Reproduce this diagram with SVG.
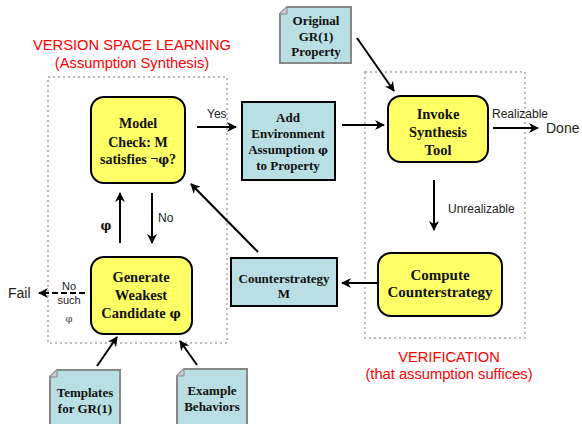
<svg xmlns="http://www.w3.org/2000/svg" width="582" height="424" viewBox="0 0 582 424">
<defs>
<marker id="ah" markerWidth="10" markerHeight="10" refX="9" refY="5" orient="auto" markerUnits="userSpaceOnUse"><path d="M0,0 L10,5 L0,10 L3,5 z" fill="#000"/></marker>
</defs>
<style>
.proc{fill:#ffff66;stroke:#000;stroke-width:2}
.box{fill:#b9dfe2;stroke:#000;stroke-width:2}
.note{fill:#b9dfe2;stroke:#888;stroke-width:2}
.area{fill:none;stroke:#bbb;stroke-width:2;stroke-dasharray:2 3}
.t{font-family:"Liberation Serif",serif;font-weight:bold;text-anchor:middle;fill:#111}
.p{font-family:"DejaVu Serif",serif;font-weight:bold}
.s{font-family:"Liberation Sans",Arial,sans-serif;fill:#222}
.red{font-family:"Liberation Sans",Arial,sans-serif;fill:#f00;font-size:14.7px;text-anchor:middle}
.c{stroke:#000;stroke-width:2;fill:none;marker-end:url(#ah)}
</style>
<rect width="582" height="424" fill="#fff"/>
<g id="areas">
<rect class="area" x="48" y="77" width="179" height="266"/>
<rect class="area" x="365" y="72" width="160" height="266"/>
<text class="red" x="132" y="50">VERSION SPACE LEARNING</text>
<text class="red" x="132" y="68">(Assumption Synthesis)</text>
<text class="red" x="449" y="362">VERIFICATION</text>
<text class="red" x="449" y="379">(that assumption suffices)</text>
</g>
<g id="connectors">
<line class="c" x1="197" y1="127" x2="236" y2="127"/>
<line class="c" x1="342" y1="125" x2="384" y2="125"/>
<line class="c" x1="357" y1="38" x2="394" y2="91"/>
<line class="c" x1="493" y1="128" x2="538" y2="128"/>
<line class="c" x1="434" y1="180" x2="434" y2="230"/>
<line class="c" x1="378" y1="283" x2="342" y2="283"/>
<line class="c" x1="258" y1="252" x2="191" y2="184"/>
<line class="c" x1="120" y1="243" x2="120" y2="193"/>
<line class="c" x1="152" y1="193" x2="152" y2="243"/>
<line class="c" x1="85" y1="293" x2="39" y2="293" stroke-dasharray="6 3"/>
<line class="c" x1="97" y1="366" x2="117" y2="337"/>
<line class="c" x1="197" y1="365" x2="180" y2="341"/>
<text class="s" x="207" y="118" font-size="12">Yes</text>
<text class="s" x="492" y="118" font-size="12">Realizable</text>
<text class="s" x="546" y="133" font-size="14">Done</text>
<text class="s" x="448" y="213" font-size="12">Unrealizable</text>
<text class="s" x="158" y="222" font-size="12">No</text>
<text class="p" x="106" y="230" font-size="12" text-anchor="middle" fill="#111">φ</text>
<text class="s" x="8" y="298" font-size="14">Fail</text>
<text class="s" x="69" y="290" font-size="11" text-anchor="middle">No</text>
<text class="s" x="69" y="304" font-size="11" text-anchor="middle">such</text>
<text x="69" y="322" font-size="10" text-anchor="middle" font-family="DejaVu Serif,serif" fill="#444">φ</text>
</g>
<g id="model-check">
<rect class="proc" x="91" y="97" width="94" height="86" rx="13"/>
<text class="t" x="138" y="128" font-size="14">Model</text>
<text class="t" x="138" y="147" font-size="14">Check: M</text>
<text class="t" x="138" y="164" font-size="14">satisfies ¬<tspan class="p" font-size="12">φ</tspan>?</text>
</g>
<g id="add-env">
<rect class="box" x="242" y="102" width="93" height="78"/>
<text class="t" x="288" y="122" font-size="13">Add</text>
<text class="t" x="288" y="138" font-size="13">Environment</text>
<text class="t" x="288" y="154" font-size="13">Assumption <tspan class="p" font-size="11">φ</tspan></text>
<text class="t" x="288" y="170" font-size="13">to Property</text>
</g>
<g id="original">
<path class="note" d="M287,7 H351 V63 H280 V14 Z"/>
<path d="M280,14 L287,14 L287,7" fill="#ccc" stroke="#888" stroke-width="1"/>
<text class="t" x="316" y="25" font-size="13">Original</text>
<text class="t" x="316" y="41" font-size="13">GR(1)</text>
<text class="t" x="316" y="56" font-size="13">Property</text>
</g>
<g id="invoke">
<rect class="proc" x="388" y="96" width="100" height="66" rx="13"/>
<text class="t" x="438" y="119" font-size="14.5">Invoke</text>
<text class="t" x="438" y="137" font-size="14.5">Synthesis</text>
<text class="t" x="438" y="155" font-size="14.5">Tool</text>
</g>
<g id="compute">
<rect class="proc" x="378" y="253" width="124" height="63" rx="13"/>
<text class="t" x="440" y="280" font-size="15">Compute</text>
<text class="t" x="440" y="297" font-size="15">Counterstrategy</text>
</g>
<g id="counterstrategy">
<rect class="box" x="231" y="258" width="106" height="48"/>
<text class="t" x="284" y="283" font-size="13">Counterstrategy</text>
<text class="t" x="284" y="298" font-size="13">M</text>
</g>
<g id="generate">
<rect class="proc" x="91" y="257" width="101" height="77" rx="13"/>
<text class="t" x="141" y="282" font-size="14.5">Generate</text>
<text class="t" x="141" y="300" font-size="14.5">Weakest</text>
<text class="t" x="141" y="318" font-size="14.5">Candidate <tspan class="p" font-size="12.5">φ</tspan></text>
</g>
<g id="templates">
<path class="note" d="M57,370 H120 V430 H50 V377 Z"/>
<path d="M50,377 L57,377 L57,370" fill="#ccc" stroke="#888" stroke-width="1"/>
<text class="t" x="85" y="397" font-size="13">Templates</text>
<text class="t" x="85" y="413" font-size="13">for GR(1)</text>
</g>
<g id="examples">
<path class="note" d="M184,369 H247 V430 H177 V376 Z"/>
<path d="M177,376 L184,376 L184,369" fill="#ccc" stroke="#888" stroke-width="1"/>
<text class="t" x="212" y="395" font-size="13">Example</text>
<text class="t" x="212" y="411" font-size="13">Behaviors</text>
</g>
</svg>
